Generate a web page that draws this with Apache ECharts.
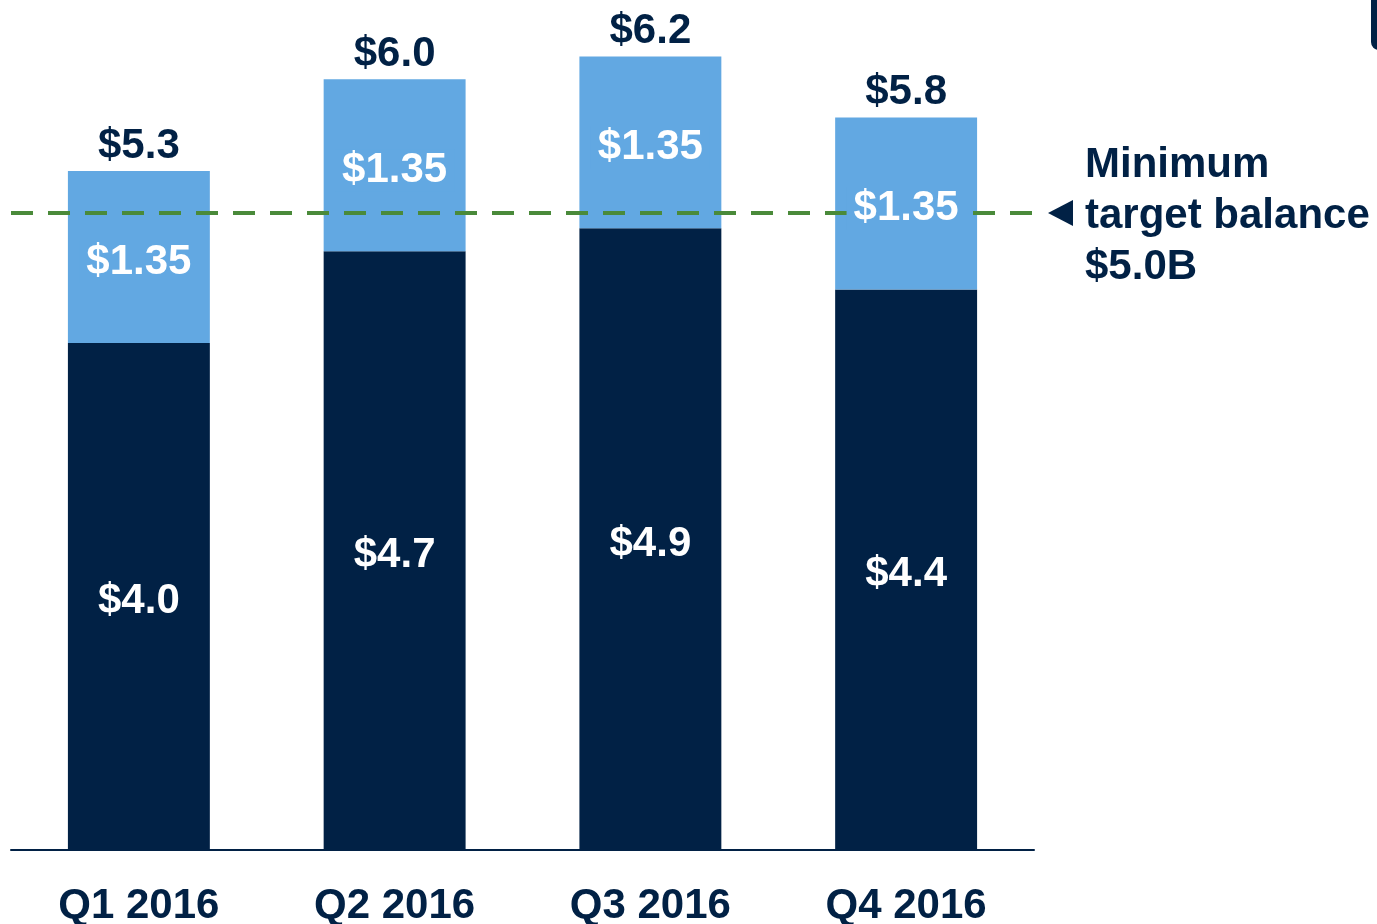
<!DOCTYPE html>
<html><head><meta charset="utf-8">
<script src="https://cdn.jsdelivr.net/npm/echarts@6/dist/echarts.min.js"></script>
<style>html,body{margin:0;padding:0;background:#fff}#c{width:1377px;height:924px}</style>
</head><body><div id="c"></div>
<script>
var categories = ['Q1 2016', 'Q2 2016', 'Q3 2016', 'Q4 2016'];
var baseValues = [3.98, 4.70, 4.88, 4.40];
var baseLabels = ['$4.0', '$4.7', '$4.9', '$4.4'];
var topValues = [1.35, 1.35, 1.35, 1.35];
var topLabels = ['$1.35', '$1.35', '$1.35', '$1.35'];
var totalLabels = ['$5.3', '$6.0', '$6.2', '$5.8'];
var targetValue = 5.0;
var targetText = ['Minimum', 'target balance', '$5.0B'];

var DARK = '#012145', LIGHT = '#62a8e2', GREEN = '#4a8a3a';
var FONT = '"Liberation Sans", Arial, sans-serif';
var FS = 42;
var BW = '55.5%';
var chart = echarts.init(document.getElementById('c'));
var option = {
  animation: false,
  grid: {left: 11, right: 343, top: 22, bottom: 74, containLabel: false, outerBoundsMode: 'none'},
  xAxis: {
    type: 'category', data: categories,
    axisLine: {lineStyle: {color: DARK, width: 2}},
    axisTick: {show: false},
    axisLabel: {color: DARK, fontFamily: FONT, fontWeight: 'bold', fontSize: FS, margin: 35}
  },
  yAxis: {type: 'value', min: 0, max: 6.5, show: false, splitLine: {show: false}},
  series: [
    {type: 'bar', stack: 'a', data: baseValues, barWidth: BW, barGap: '-100%', z: 2,
     itemStyle: {color: DARK},
     label: {show: true, position: 'inside', offset: [0, 5], color: '#fff', fontFamily: FONT, fontWeight: 'bold', fontSize: FS,
       formatter: function(p){return baseLabels[p.dataIndex];}}},
    {type: 'bar', stack: 'a', data: topValues, barWidth: BW, barGap: '-100%', z: 2,
     itemStyle: {color: LIGHT},
     markLine: {silent: true, symbol: 'none',
       lineStyle: {color: GREEN, width: 4, type: [22, 15]},
       label: {show: false},
       data: [{yAxis: targetValue}]}},
    {type: 'bar', stack: 'a', data: [0, 0, 0, 0], barWidth: BW, barGap: '-100%', z: 2,
     itemStyle: {color: 'transparent'},
     label: {show: true, position: 'top', distance: 4, color: DARK, fontFamily: FONT, fontWeight: 'bold', fontSize: FS,
       formatter: function(p){return totalLabels[p.dataIndex];}}},
    {type: 'bar', stack: 'b', data: baseValues, barWidth: BW, barGap: '-100%', z: 5, silent: true,
     itemStyle: {color: 'transparent'}},
    {type: 'bar', stack: 'b', data: topValues, barWidth: BW, barGap: '-100%', z: 5, silent: true,
     itemStyle: {color: 'transparent'},
     label: {show: true, position: 'inside', offset: [0, 5], color: '#fff', fontFamily: FONT, fontWeight: 'bold', fontSize: FS,
       backgroundColor: LIGHT, padding: [0, 7],
       formatter: function(p){return topLabels[p.dataIndex];}}}
  ]
};
chart.setOption(option);
var yPix = chart.convertToPixel({yAxisIndex: 0}, targetValue);
chart.setOption({graphic: [
  {type: 'polygon', shape: {points: [[1048, yPix], [1073, yPix - 13], [1073, yPix + 13]]}, style: {fill: DARK}},
  {type: 'text', left: 1085, top: yPix - 73,
   style: {text: targetText.join('\n'), fill: DARK, font: 'bold ' + FS + 'px ' + FONT, lineHeight: 51}},
  {type: 'rect', shape: {x: 1371, y: -20, width: 40, height: 70, r: 8}, style: {fill: DARK}}
]});
</script></body></html>
